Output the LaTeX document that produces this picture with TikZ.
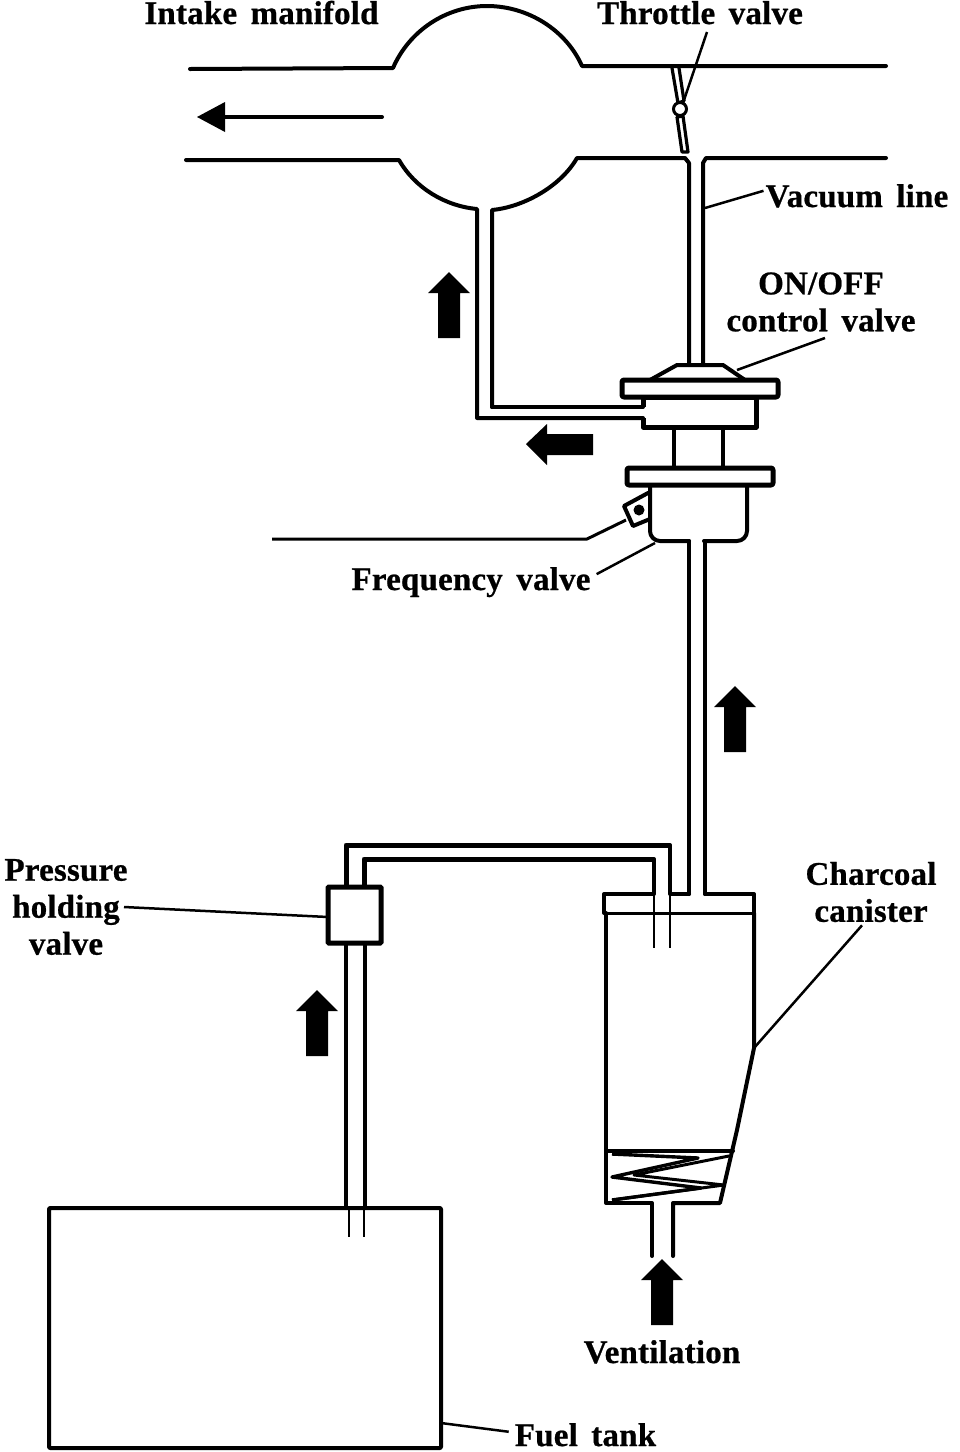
\documentclass[tikz,border=0pt]{standalone}
\usepackage{fontspec}
\setmainfont{Liberation Serif}[LetterSpace=0.6,WordSpace=1.6,BoldFeatures={FakeBold=0.7}]
\tikzset{
  ln/.style={line width=4pt,line join=round,line cap=round},
  hv/.style={line width=5pt,line join=round},
  thn/.style={line width=2pt},
  lead/.style={line width=2.5pt},
  lab/.style={font=\fontsize{33}{37}\selectfont\bfseries,inner sep=0pt,align=center},
  blockup/.pic={\fill (0,0)--(21,21)--(11,21)--(11,66)--(-11,66)--(-11,21)--(-21,21)--cycle;}
}
\begin{document}
\begin{tikzpicture}[x=1pt,y=-1pt]
\useasboundingbox (0,0) rectangle (960,1452);
% manifold
\draw[ln] (190,69)--(393,68) .. controls (409,31) and (446,6) .. (487,6) .. controls (528,6) and (566,30) .. (582,66) -- (886,66);
\draw[ln] (186,160)--(399,160) .. controls (415,188) and (445,206) .. (477,209) -- (477,418) -- (643,418);
\draw[ln] (492,407) -- (492,210) .. controls (524,207) and (561,186) .. (577,158) -- (685,158) -- (689,163) -- (689,365);
\draw[ln] (643,407) -- (492,407);
\draw[ln] (886,158) -- (706,158) -- (703,163) -- (703,365);
% flow arrow
\coordinate (flowA) at (382,117);
\coordinate (flowB) at (222,117);
\draw[ln] (flowA) -- (flowB);
\fill[line join=round] (197,117)--(225,102)--(225,132)--cycle;
% throttle
\draw[line width=3.2pt,line join=round] (672,68)--(678,103)--(684,101)--(679,68);
\draw[line width=3.2pt,line join=round] (677,117)--(682,152)--(688,152)--(683,116)--cycle;
\node[circle,draw,line width=3pt,fill=white,minimum size=13pt,inner sep=0pt] (pivot) at (680,109) {};
% ON/OFF valve
\draw[ln] (650,380)--(677,365)--(723,365)--(745,380);
\draw[hv,rounded corners=2pt] (622,380) rectangle (778,397);
\draw[hv] (643,407)--(643,397)--(756,397)--(756,427)--(643,427)--(643,418);
\draw[ln] (674,427)--(674,467);
\draw[ln] (723,427)--(723,467);
\draw[hv,rounded corners=2pt] (627,468) rectangle (773,485);
\draw[ln,rounded corners=10pt] (650,485)--(650,541)--(689,541);
\draw[ln,rounded corners=10pt] (747,485)--(747,541)--(704,541);
\draw[ln] (689,541)--(689,894);
\draw[ln] (705,541)--(705,894);
% connector on frequency valve
\draw[ln] (648,493)--(624,506)--(633,526)--(650,519);
\node[circle,fill,minimum size=11pt,inner sep=0pt] (plug) at (639,510) {};
\coordinate (wireA) at (272,539);
\coordinate (wireB) at (587,539);
\coordinate (wireC) at (626,520);
\draw[line width=3pt,line join=round] (wireA)--(wireB)--(wireC);
% canister
\draw[ln] (654,859)--(654,894)--(604,894)--(604,913);
\draw[line width=3pt] (604,913)--(754,913);
\draw[ln] (754,913)--(754,894)--(705,894);
\draw[ln] (689,894)--(670,894)--(670,845);
\draw[thn] (654,894)--(654,948);
\draw[thn] (670,894)--(670,948);
\draw[ln] (606,913)--(606,1203)--(652,1203)--(652,1256);
\draw[ln] (673,1256)--(673,1203)--(720,1203)--(737,1130)--(754,1048)--(754,913);
\draw[ln] (606,1151)--(733,1151);
\draw[line width=3.4pt,line join=round] (612,1154)--(698,1158)--(612,1177)--(701,1188)--(612,1200);
\draw[line width=3pt,line join=round] (729,1156)--(634,1175)--(724,1185)--(612,1200);
% pressure valve and pipes
\draw[hv] (346,887)--(346,845)--(670,845);
\draw[hv] (364,887)--(364,859)--(654,859);
\node[draw,line width=5pt,rounded corners=1pt,minimum width=53pt,minimum height=56pt,inner sep=0pt] (pv) at (354.5,915) {};
\draw[ln] (346,943)--(346,1208);
\draw[ln] (365,943)--(365,1208);
\draw[thn] (349,1208)--(349,1237);
\draw[thn] (364,1208)--(364,1237);
% tank
\draw[ln,rounded corners=1pt] (49,1208) rectangle (441,1448);
% block arrows
\pic at (449,272) {blockup};
\pic at (735,686) {blockup};
\pic at (317,990) {blockup};
\pic at (662,1259) {blockup};
\fill (526,444)--(547,424)--(547,434)--(593,434)--(593,455)--(547,455)--(547,465)--cycle;
% labels
\node[lab,anchor=base] (im) at (261.5,24) {Intake manifold};
\node[lab,anchor=base] (tv) at (700,24) {Throttle valve};
\node[lab,anchor=base] (vl) at (857,207) {Vacuum line};
\node[lab] (oo) at (821,302) {ON/OFF\\control valve};
\node[lab,anchor=base] (fv) at (471,590) {Frequency valve};
\node[lab] (ph) at (66,907) {Pressure\\holding\\valve};
\node[lab] (cc) at (871,892) {Charcoal\\canister};
\node[lab,anchor=base] (vt) at (662,1363) {Ventilation};
\node[lab,anchor=base] (ft) at (585.5,1446) {Fuel tank};
% leaders
\coordinate (tvEnd) at (683,103);
\coordinate (vlEnd) at (705,208);
\coordinate (ooEnd) at (737,370);
\coordinate (fvEnd) at (655,543);
\coordinate (phEnd) at (328,917);
\coordinate (ccEnd) at (754,1048);
\coordinate (ftEnd) at (441,1423);
\coordinate (tvStart) at (707,32);
\coordinate (ooStart) at (825,338);
\draw[lead] (tvStart) -- (tvEnd);
\draw[lead] (vl.west) ++(-2,-5) -- (vlEnd);
\draw[lead] (ooStart) -- (ooEnd);
\draw[lead] (fv.east) ++(6,-8) -- (fvEnd);
\draw[lead] (ph.center) ++(58,0) -- (phEnd);
\draw[lead] (cc.south) ++(-9,3) -- (ccEnd);
\draw[lead] (ft.west) ++(-6,-3) -- (ftEnd);
\end{tikzpicture}
\end{document}
